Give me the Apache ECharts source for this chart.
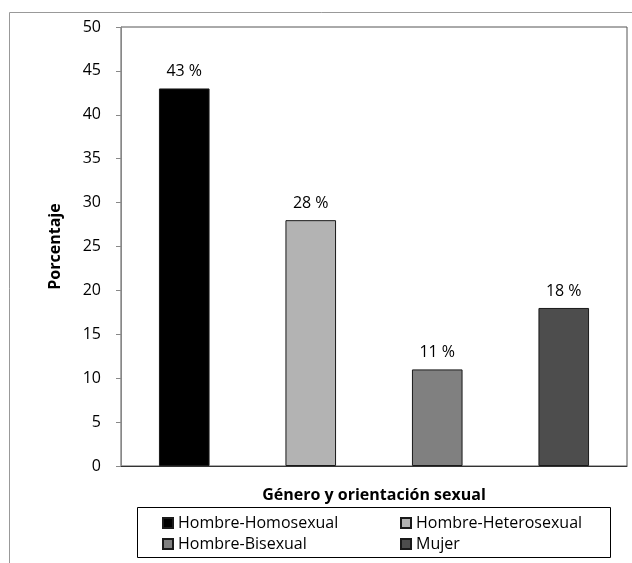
<!DOCTYPE html>
<html>
<head>
<meta charset="utf-8">
<script src="https://cdn.jsdelivr.net/npm/echarts@6/dist/echarts.min.js"></script>
<style>
  html, body { margin: 0; padding: 0; background: #fff; }
  #chart { width: 632px; height: 563px; }
</style>
</head>
<body>
<div id="chart"></div>
<script>
// Survey groups and their share (%)
const categories = ['Hombre-Homosexual', 'Hombre-Heterosexual', 'Hombre-Bisexual', 'Mujer'];
const values = [43, 28, 11, 18];
const barColors = ['#000000', '#b3b3b3', '#808080', '#4d4d4d'];
const yTicks = [0, 5, 10, 15, 20, 25, 30, 35, 40, 45, 50];

const FONT = '"Open Sans", Lato, sans-serif';

// One stacked series per group so each gets its own legend entry
const series = categories.map((name, i) => ({
  name: name,
  type: 'bar',
  stack: 'g',
  barWidth: '40%',
  data: categories.map((_, j) => (j === i ? values[i] : '-')),
  itemStyle: { color: barColors[i], borderColor: '#1a1a1a', borderWidth: 1 },
  label: {
    show: true,
    position: 'top',
    distance: 9,
    formatter: '{c} %',
    color: '#000',
    fontFamily: FONT,
    fontSize: 16
  }
}));

const chart = echarts.init(document.getElementById('chart'));
chart.setOption({
  animation: false,
  backgroundColor: '#fff',
  grid: {
    left: 121, right: 5, top: 27, bottom: 97,
    show: true, borderColor: '#555', borderWidth: 1
  },
  xAxis: {
    type: 'category',
    data: categories,
    name: 'Género y orientación sexual',
    nameLocation: 'middle',
    nameGap: 21,
    nameTextStyle: { fontFamily: FONT, fontWeight: 'bold', fontSize: 16, color: '#000' },
    axisLine: { lineStyle: { color: '#333' } },
    axisTick: { show: false },
    axisLabel: { show: false }
  },
  yAxis: {
    type: 'value',
    min: yTicks[0],
    max: yTicks[yTicks.length - 1],
    interval: yTicks[1] - yTicks[0],
    name: 'Porcentaje',
    nameLocation: 'middle',
    nameGap: 58,
    nameTextStyle: { fontFamily: FONT, fontWeight: 'bold', fontSize: 16, color: '#000' },
    axisLine: { show: true, lineStyle: { color: '#888' } },
    axisTick: { show: true, length: 5, lineStyle: { color: '#888' } },
    axisLabel: { margin: 20, fontFamily: FONT, fontSize: 16, color: '#000' },
    splitLine: { show: false }
  },
  legend: [
    {
      orient: 'vertical', left: 157, top: 510, itemGap: 5,
      itemWidth: 10, itemHeight: 10, icon: 'rect',
      data: [categories[0], categories[2]],
      textStyle: { fontFamily: FONT, fontSize: 16, color: '#000' }
    },
    {
      orient: 'vertical', left: 395, top: 510, itemGap: 5,
      itemWidth: 10, itemHeight: 10, icon: 'rect',
      data: [categories[1], categories[3]],
      textStyle: { fontFamily: FONT, fontSize: 16, color: '#000' }
    }
  ],
  graphic: [
    {
      type: 'rect', silent: true, z: -1,
      shape: { x: 9.5, y: 12.5, width: 700, height: 700 },
      style: { fill: 'none', stroke: '#999', lineWidth: 1 }
    },
    {
      type: 'rect', silent: true,
      shape: { x: 137.5, y: 507.5, width: 473, height: 50 },
      style: { fill: 'none', stroke: '#000', lineWidth: 1 }
    }
  ],
  series: series
});
</script>
</body>
</html>
